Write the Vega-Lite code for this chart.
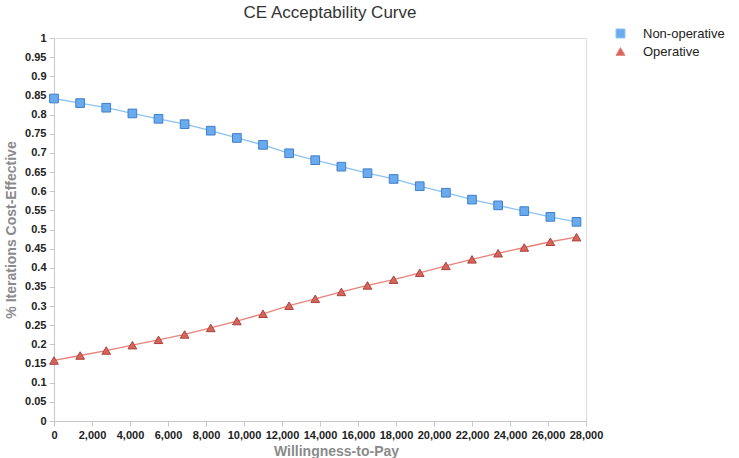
{
  "$schema": "https://vega.github.io/schema/vega-lite/v6.json",
  "width": 532,
  "height": 383,
  "autosize": "none",
  "padding": {"left": 54, "top": 38, "right": 153, "bottom": 37},
  "background": "white",
  "title": {"text": "CE Acceptability Curve", "fontSize": 17, "font": "Liberation Sans", "fontWeight": "normal", "color": "#333333", "offset": 12, "dx": 10, "dy": 7, "anchor": "middle"},
  "data": {"values": [
    {"wtp": 0, "p": 0.842, "s": "Non-operative"},
    {"wtp": 1375, "p": 0.830, "s": "Non-operative"},
    {"wtp": 2750, "p": 0.818, "s": "Non-operative"},
    {"wtp": 4125, "p": 0.803, "s": "Non-operative"},
    {"wtp": 5500, "p": 0.789, "s": "Non-operative"},
    {"wtp": 6875, "p": 0.775, "s": "Non-operative"},
    {"wtp": 8250, "p": 0.758, "s": "Non-operative"},
    {"wtp": 9625, "p": 0.739, "s": "Non-operative"},
    {"wtp": 11000, "p": 0.721, "s": "Non-operative"},
    {"wtp": 12375, "p": 0.699, "s": "Non-operative"},
    {"wtp": 13750, "p": 0.681, "s": "Non-operative"},
    {"wtp": 15125, "p": 0.664, "s": "Non-operative"},
    {"wtp": 16500, "p": 0.647, "s": "Non-operative"},
    {"wtp": 17875, "p": 0.632, "s": "Non-operative"},
    {"wtp": 19250, "p": 0.613, "s": "Non-operative"},
    {"wtp": 20625, "p": 0.596, "s": "Non-operative"},
    {"wtp": 22000, "p": 0.578, "s": "Non-operative"},
    {"wtp": 23375, "p": 0.563, "s": "Non-operative"},
    {"wtp": 24750, "p": 0.548, "s": "Non-operative"},
    {"wtp": 26125, "p": 0.533, "s": "Non-operative"},
    {"wtp": 27500, "p": 0.520, "s": "Non-operative"},
    {"wtp": 0, "p": 0.158, "s": "Operative"},
    {"wtp": 1375, "p": 0.171, "s": "Operative"},
    {"wtp": 2750, "p": 0.184, "s": "Operative"},
    {"wtp": 4125, "p": 0.198, "s": "Operative"},
    {"wtp": 5500, "p": 0.212, "s": "Operative"},
    {"wtp": 6875, "p": 0.226, "s": "Operative"},
    {"wtp": 8250, "p": 0.243, "s": "Operative"},
    {"wtp": 9625, "p": 0.261, "s": "Operative"},
    {"wtp": 11000, "p": 0.280, "s": "Operative"},
    {"wtp": 12375, "p": 0.301, "s": "Operative"},
    {"wtp": 13750, "p": 0.319, "s": "Operative"},
    {"wtp": 15125, "p": 0.337, "s": "Operative"},
    {"wtp": 16500, "p": 0.354, "s": "Operative"},
    {"wtp": 17875, "p": 0.369, "s": "Operative"},
    {"wtp": 19250, "p": 0.387, "s": "Operative"},
    {"wtp": 20625, "p": 0.405, "s": "Operative"},
    {"wtp": 22000, "p": 0.422, "s": "Operative"},
    {"wtp": 23375, "p": 0.438, "s": "Operative"},
    {"wtp": 24750, "p": 0.453, "s": "Operative"},
    {"wtp": 26125, "p": 0.468, "s": "Operative"},
    {"wtp": 27500, "p": 0.480, "s": "Operative"}
  ]},
  "encoding": {
    "x": {"field": "wtp", "type": "quantitative", "scale": {"domain": [0, 28000], "nice": false},
      "axis": {"title": "Willingness-to-Pay", "format": ",d", "values": [0,2000,4000,6000,8000,10000,12000,14000,16000,18000,20000,22000,24000,26000,28000], "grid": false,
        "domainColor": "#c8c8c8", "tickColor": "#c8c8c8", "tickSize": 5, "labelFont": "Liberation Sans", "labelFontSize": 11, "labelFontWeight": "bold", "labelColor": "#222222", "labelPadding": 3,
        "titleFont": "Liberation Sans", "titleFontSize": 14, "titleFontWeight": "bold", "titleColor": "#8a8a8a", "titlePadding": 4, "titleX": 282, "labelFlush": false}},
    "y": {"field": "p", "type": "quantitative", "scale": {"domain": [0, 1], "nice": false},
      "axis": {"title": "% Iterations Cost-Effective", "format": "~g", "values": [0,0.05,0.1,0.15,0.2,0.25,0.3,0.35,0.4,0.45,0.5,0.55,0.6,0.65,0.7,0.75,0.8,0.85,0.9,0.95,1], "grid": false,
        "domainColor": "#c8c8c8", "tickColor": "#c8c8c8", "tickSize": 5, "labelFont": "Liberation Sans", "labelFontSize": 11, "labelFontWeight": "bold", "labelColor": "#222222", "labelPadding": 3,
        "titleFont": "Liberation Sans", "titleFontSize": 14, "titleFontWeight": "bold", "titleColor": "#8a8a8a", "titlePadding": 6, "labelFlush": false}},
    "color": {"field": "s", "type": "nominal", "scale": {"domain": ["Non-operative", "Operative"], "range": ["#8cc2f2", "#e8837a"]},
      "legend": {"title": null, "orient": "none", "legendX": 560, "legendY": -11, "labelFont": "Liberation Sans", "labelFontSize": 13, "labelColor": "#222222", "symbolSize": 80, "rowPadding": 4, "labelOffset": 16,
        "symbolStrokeWidth": 1}}
  },
  "layer": [
    {"mark": {"type": "line", "strokeWidth": 1.3}},
    {"mark": {"type": "point", "filled": true, "size": 75, "strokeWidth": 1, "opacity": 1},
      "encoding": {
        "shape": {"field": "s", "type": "nominal", "scale": {"domain": ["Non-operative", "Operative"], "range": ["square", "triangle-up"]}, "legend": null},
        "fill": {"field": "s", "type": "nominal", "scale": {"domain": ["Non-operative", "Operative"], "range": ["#6aaaef", "#d9645b"]}, "legend": null},
        "stroke": {"field": "s", "type": "nominal", "scale": {"domain": ["Non-operative", "Operative"], "range": ["#3f7fc9", "#a9453d"]}, "legend": null}
      }}
  ]
}
